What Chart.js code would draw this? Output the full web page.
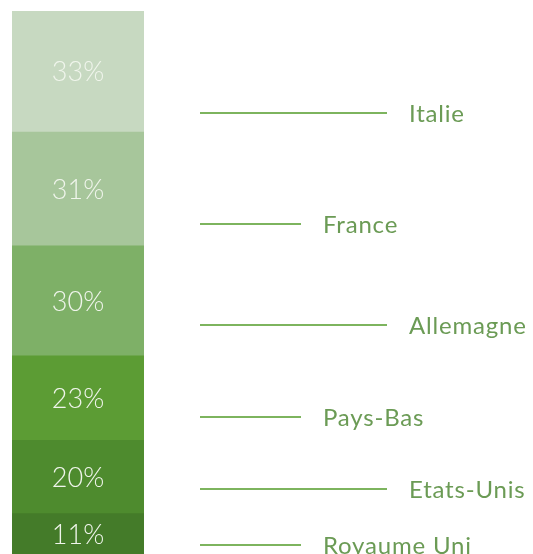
<!DOCTYPE html>
<html>
<head>
<meta charset="utf-8">
<script src="https://cdn.jsdelivr.net/npm/chart.js@4"></script>
<style>
  html, body { margin: 0; padding: 0; background: #fff; }
  #wrap { width: 533px; height: 554px; position: relative; }
</style>
</head>
<body>
<div id="wrap"><canvas id="shareChart"></canvas></div>
<script>
// bottom to top
const countries = ['Royaume Uni', 'Etats-Unis', 'Pays-Bas', 'Allemagne', 'France', 'Italie'];
const shares = [11, 20, 23, 30, 31, 33];
const colors = ['#447b29', '#4e8b2e', '#5c9c34', '#7eb067', '#a7c69b', '#c7d9c1'];
// value on the stacked axis where each leader line sits
const leaderAt = [2.5, 17.7, 37.3, 62.4, 89.9, 120.2];
const longLeader = [false, true, false, true, false, true];

const datasets = shares.map((v, i) => ({
  label: countries[i],
  data: [v],
  backgroundColor: colors[i],
  borderWidth: 0,
  barPercentage: 1,
  categoryPercentage: 1
}));

const total = shares.reduce((a, b) => a + b, 0);

const labelsPlugin = {
  id: 'labels',
  afterDatasetsDraw(chart) {
    const ctx = chart.ctx;
    const y = chart.scales.y;
    const x = chart.scales.x;
    const cx = x.getPixelForValue(0);
    ctx.save();

    // percentages inside the bar
    let base = 0;
    ctx.fillStyle = '#f0f5ec';
    ctx.font = '300 27px Lato';
    ctx.textAlign = 'center';
    ctx.textBaseline = 'middle';
    shares.forEach(v => {
      const py = y.getPixelForValue(base + v / 2);
      ctx.fillText(v + '%', cx, py + 1);
      base += v;
    });

    // leader lines and country names
    const lineStart = chart.chartArea.right + 56;
    ctx.letterSpacing = '0.8px';
    countries.forEach((name, i) => {
      const py = Math.round(y.getPixelForValue(leaderAt[i]));
      const len = longLeader[i] ? 187 : 101;
      ctx.strokeStyle = '#7db45e';
      ctx.lineWidth = 2;
      ctx.beginPath();
      ctx.moveTo(lineStart, py);
      ctx.lineTo(lineStart + len, py);
      ctx.stroke();

      ctx.fillStyle = '#6b9b55';
      ctx.font = '400 24px Lato';
      ctx.textAlign = 'left';
      ctx.fillText(name, lineStart + len + 22, py + 1);
    });
    ctx.restore();
  }
};

new Chart(document.getElementById('shareChart'), {
  type: 'bar',
  data: { labels: [''], datasets },
  options: {
    responsive: true,
    maintainAspectRatio: false,
    animation: false,
    layout: { padding: { left: 12, right: 389, top: 11, bottom: 0 } },
    scales: {
      x: { stacked: true, display: false },
      y: { stacked: true, display: false, min: 0, max: total }
    },
    plugins: {
      legend: { display: false },
      tooltip: { enabled: false }
    }
  },
  plugins: [labelsPlugin]
});
</script>
</body>
</html>
